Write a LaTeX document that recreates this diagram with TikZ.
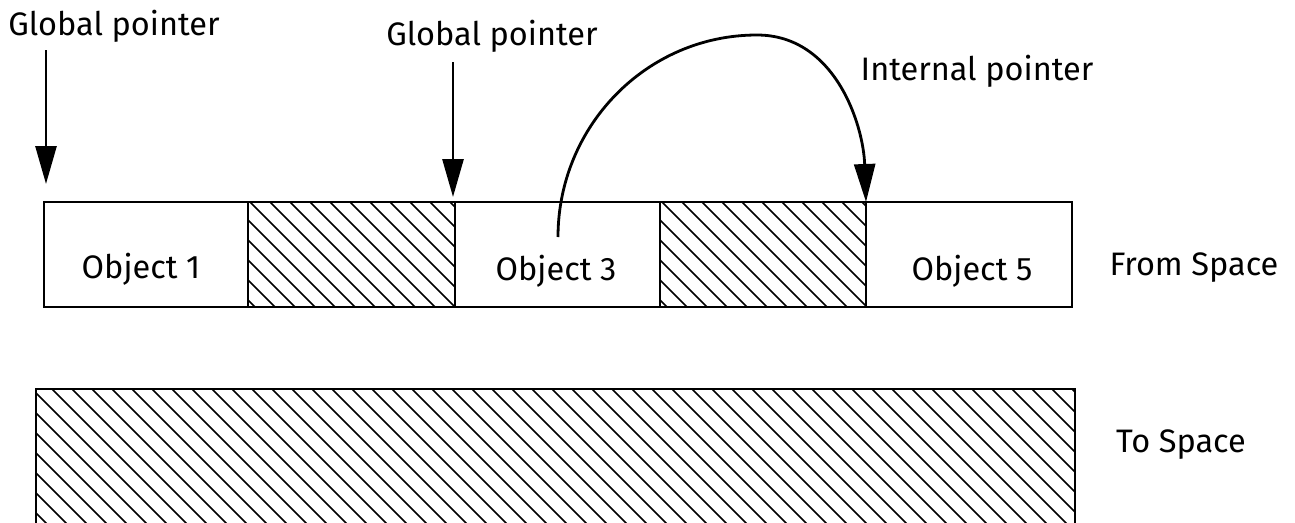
\documentclass[tikz,border=0pt]{standalone}
\usepackage{fontspec}
\setmainfont{Fira Sans}
\usetikzlibrary{arrows.meta}
\begin{document}
\begin{tikzpicture}[x=1pt,y=-1pt,
  lbl/.style={font=\fontsize{32.5}{38}\selectfont, inner sep=0pt, anchor=base},
  boxline/.style={draw, line width=2.8pt},
  ptr/.style={line width=2.8pt, -{Triangle[length=38pt,width=21pt]}},
  hatchline/.style={line width=1.6pt}]
\useasboundingbox (0,0) rectangle (1295,522);
\clip (0,0) rectangle (1295,522);
% hatching of free cells
\begin{scope}
  \clip (248,202) rectangle (455,307);
  \foreach \k in {-8,...,12} \draw[hatchline] (250+\k*20,202) -- ++(220,220);
\end{scope}
\begin{scope}
  \clip (660,202) rectangle (866,307);
  \foreach \k in {-8,...,12} \draw[hatchline] (662+\k*20,202) -- ++(220,220);
\end{scope}
\begin{scope}
  \clip (36,389) rectangle (1075,600);
  \foreach \k in {-10,...,55} \draw[hatchline] (52+\k*20,389) -- ++(220,220);
\end{scope}
% from space
\draw[boxline] (44,202) rectangle (1072,307);
\draw[boxline] (248,202) -- (248,307);
\draw[boxline] (455,202) -- (455,307);
\draw[boxline] (660,202) -- (660,307);
\draw[boxline] (866,202) -- (866,307);
% to space
\draw[boxline] (36,600) -- (36,389) -- (1075,389) -- (1075,600);
% labels
\node[lbl] (o1) at (141,278) {Object 1};
\node[lbl] (o3) at (556,280) {Object 3};
\node[lbl] (o5) at (972,280) {Object 5};
\node[lbl] (from) at (1194,275) {From Space};
\node[lbl] (to) at (1181,452) {To Space};
\node[lbl] (gp1) at (114,35) {Global pointer};
\node[lbl] (gp2) at (492,45) {Global pointer};
\node[lbl] (ip) at (977,80) {Internal pointer};
% pointers
\coordinate (g1a) at (46,50);
\coordinate (g1b) at (46,184);
\coordinate (g2a) at (453,62);
\coordinate (g2b) at (453,197);
\coordinate (ia) at (558,237);
\coordinate (ipk) at (757,35);
\coordinate (ib) at (866,202);
\draw[ptr] (g1a) -- (g1b);
\draw[ptr] (g2a) -- (g2b);
\draw[ptr] (ia) to[out=90,in=180] (ipk) to[out=0,in=92] (ib);
\end{tikzpicture}
\end{document}
